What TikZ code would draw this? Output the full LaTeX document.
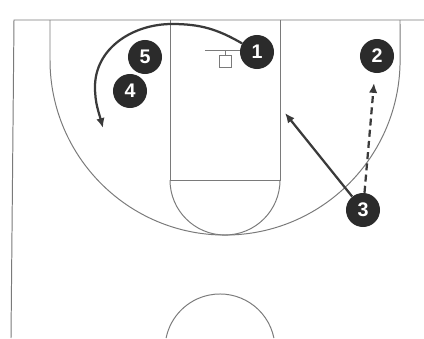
\documentclass[tikz,border=0pt]{standalone}
\usepackage{fontspec}
\setsansfont{Liberation Sans}
\usetikzlibrary{arrows.meta}
\definecolor{courtgray}{HTML}{7A7A7A}
\definecolor{playerfill}{HTML}{2B2B2B}
\definecolor{movegray}{HTML}{3A3A3A}
\begin{document}
\begin{tikzpicture}[x=0.025cm,y=0.025cm,
      court/.style={draw=courtgray,line width=0.7pt},
      player/.style={circle,fill=playerfill,minimum size=0.85cm,inner sep=0pt,
        text=white,font=\sffamily\bfseries\fontsize{14}{14}\selectfont},
      move/.style={draw=movegray,line width=1.6pt,-{Latex[length=7pt,width=6pt]}},
      pass/.style={move,dash pattern=on 5pt off 3pt}]

      \useasboundingbox (0,0) rectangle (424,338);

      % half court
      \draw[court] (424,318) -- (14,318) -- (11,0);
      \draw[court] (50,318) -- (50,278) arc[start angle=180,end angle=360,radius=4.375cm] -- (400,318);
      \draw[court] (170,318) -- (170,158) -- (280,158) -- (280,318);
      \draw[court] (170,158) arc[start angle=180,end angle=360,radius=1.375cm];
      \draw[court] (220,-11) ++(11.5:1.375cm) arc[start angle=11.5,end angle=168.5,radius=1.375cm];

      % basket
      \draw[court] (205,288) -- (242,288);
      \draw[court] (225,288) -- (225,283);
      \draw[court] (219,283) rectangle (231,271);

      % players
      \node[player] (p1) at (257,286) {1};
      \node[player] (p2) at (377,282) {2};
      \node[player] (p3) at (363,128) {3};
      \node[player] (p4) at (130,247) {4};
      \node[player] (p5) at (145,281) {5};

      \coordinate (c1) at (103,210);
      \coordinate (c2) at (374,255);
      \coordinate (c3) at (285,225);

      \draw[move] (p1.150) to[out=150,in=0] (172,314) to[out=180,in=90] (95,251) to[out=-90,in=105] (c1);
      \draw[move] (p3) -- (c3);
      \draw[pass] (p3) -- (c2);
    \end{tikzpicture}
\end{document}
